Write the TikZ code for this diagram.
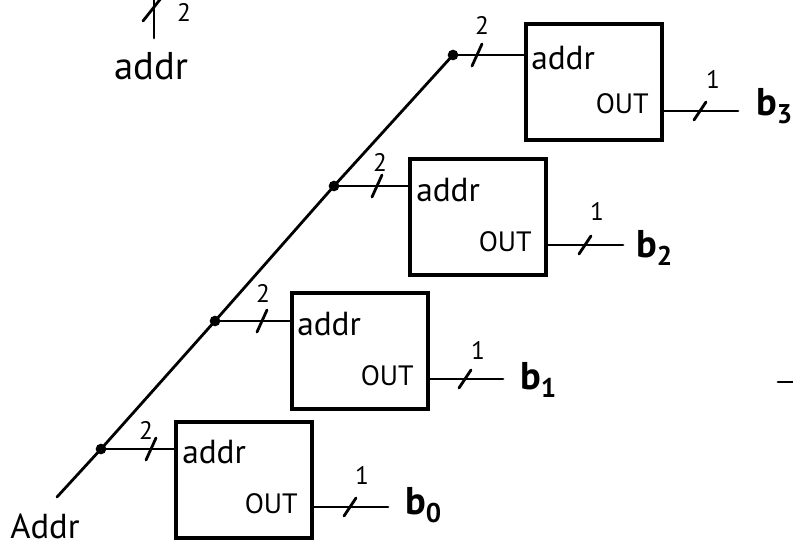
\documentclass[tikz,border=0pt]{standalone}
\usepackage{fontspec}
\setmainfont{PT Sans}
\usetikzlibrary{positioning}
\tikzset{
  chipbox/.style={
    draw,
    line width=3pt,
    minimum width=102pt,
    minimum height=87pt,
    inner sep=0pt
  },
  wire/.style={line width=2.1pt, line cap=round},
  tap/.style={circle, fill, inner sep=0pt, minimum size=8pt},
  widthlabel/.style={font=\fontsize{19}{19}\selectfont, inner sep=0pt},
  pinlabel/.style={font=\fontsize{25}{25}\selectfont, inner sep=0pt},
  outlabel/.style={font=\fontsize{21}{21}\selectfont, inner sep=0pt},
  bitlabel/.style={font=\fontsize{29}{29}\selectfont\bfseries, inner sep=0pt, anchor=west}
}

\begin{document}
\begin{tikzpicture}[x=0.75pt,y=-0.75pt]
\useasboundingbox (0,0) rectangle (793,551);
\clip (0,0) rectangle (793,551);
\node[chipbox] (chip0) at (244,480) {};
\node[chipbox] (chip1) at (360,351) {};
\node[chipbox] (chip2) at (478,217) {};
\node[chipbox] (chip3) at (594,82) {};
\node[tap] (tap0) at (101,449) {};
\node[tap] (tap1) at (215,321) {};
\node[tap] (tap2) at (334,186) {};
\node[tap] (tap3) at (453,55) {};
\coordinate (busin) at (57,497);
\coordinate (out0) at (388,507);
\coordinate (out1) at (503,379);
\coordinate (out2) at (623,245);
\coordinate (out3) at (738,111);
\coordinate (cut0) at (151,449);
\coordinate (cut1) at (262,321);
\coordinate (cut2) at (377,186);
\coordinate (cut3) at (477,55);
\coordinate (cutq0) at (350,507);
\coordinate (cutq1) at (465,379);
\coordinate (cutq2) at (585,245);
\coordinate (cutq3) at (700,111);
\draw[wire] (busin) -- (tap0.center) -- (tap1.center) -- (tap2.center) -- (tap3.center);
\draw[wire] (tap0.center) -- (tap0 -| chip0.west);
\draw[wire] (tap1.center) -- (tap1 -| chip1.west);
\draw[wire] (tap2.center) -- (tap2 -| chip2.west);
\draw[wire] (tap3.center) -- (tap3 -| chip3.west);
\draw[wire] (out0 -| chip0.east) -- (out0);
\draw[wire] (out1 -| chip1.east) -- (out1);
\draw[wire] (out2 -| chip2.east) -- (out2);
\draw[wire] (out3 -| chip3.east) -- (out3);
\draw[wire] ([shift={(-5,11)}]cut0) -- ([shift={(5,-11)}]cut0);
\draw[wire] ([shift={(-5,11)}]cut1) -- ([shift={(5,-11)}]cut1);
\draw[wire] ([shift={(-5,11)}]cut2) -- ([shift={(5,-11)}]cut2);
\draw[wire] ([shift={(-5,11)}]cut3) -- ([shift={(5,-11)}]cut3);
\draw[wire] ([shift={(-6,9)}]cutq0) -- ([shift={(6,-9)}]cutq0);
\draw[wire] ([shift={(-6,9)}]cutq1) -- ([shift={(6,-9)}]cutq1);
\draw[wire] ([shift={(-6,9)}]cutq2) -- ([shift={(6,-9)}]cutq2);
\draw[wire] ([shift={(-6,9)}]cutq3) -- ([shift={(6,-9)}]cutq3);
\node[widthlabel] (w0) at (146,430) {2};
\node[widthlabel] (w1) at (263,293) {2};
\node[widthlabel] (w2) at (380,162) {2};
\node[widthlabel] (w3) at (482,25) {2};
\node[widthlabel] (q0) at (362,475) {1};
\node[widthlabel] (q1) at (478,350) {1};
\node[widthlabel] (q2) at (597,211) {1};
\node[widthlabel] (q3) at (713,79) {1};
\node[pinlabel, anchor=west] (a0) at (182,452) {addr};
\node[pinlabel, anchor=west] (a1) at (297,324) {addr};
\node[pinlabel, anchor=west] (a2) at (416,190) {addr};
\node[pinlabel, anchor=west] (a3) at (531,58) {addr};
\node[outlabel, anchor=east] (o0) at (298,504) {OUT};
\node[outlabel, anchor=east] (o1) at (414,376) {OUT};
\node[outlabel, anchor=east] (o2) at (532,242) {OUT};
\node[outlabel, anchor=east] (o3) at (649,104) {OUT};
\node[bitlabel] (b0) at (405,505) {b\textsubscript{0}};
\node[bitlabel] (b1) at (520,380) {b\textsubscript{1}};
\node[bitlabel] (b2) at (636,248) {b\textsubscript{2}};
\node[bitlabel] (b3) at (756,106) {b\textsubscript{3}};
\node[pinlabel, font=\fontsize{26}{26}\selectfont] (addrin) at (45,526) {Addr};
\node[pinlabel, font=\fontsize{29}{29}\selectfont] (topaddr) at (151,66) {addr};
\coordinate (topin) at (154,38);
\draw[wire] (topin) -- ++(0,-45);
\draw[wire] (143,21) -- (162,-3);
\node[widthlabel] (topw) at (184,12) {2};
\draw[wire] (778,382) -- (800,382);
\end{tikzpicture}
\end{document}
